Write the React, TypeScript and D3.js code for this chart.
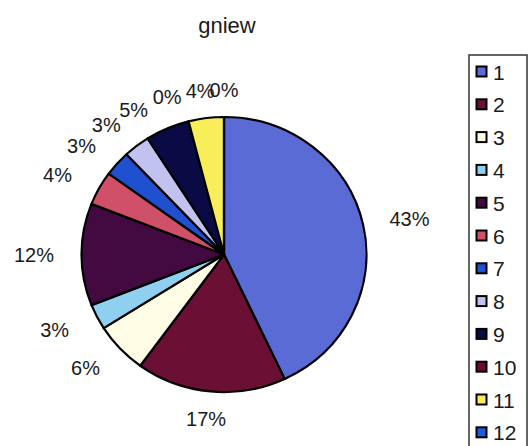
import React, { useMemo } from "react";
import * as d3 from "d3";

// Category names, their shares (percent) and slice colours
const categories = ["1", "2", "3", "4", "5", "6", "7", "8", "9", "10", "11", "12"];
const shares = [43, 17, 6, 3, 12, 4, 3, 3, 5, 0, 4, 0];
const sliceColors = [
  "#5b6bd6",
  "#6b0f35",
  "#fffde6",
  "#8fd0f0",
  "#420a40",
  "#d0506a",
  "#1f50d0",
  "#c2c2f0",
  "#0a0a45",
  "#700a30",
  "#f8ee5a",
  "#1a5ee0",
];
const title = "gniew";

const W = 528;
const H = 446;
const CX = 224;
const CY = 254.5;
const RY = 137.5;
const RX = 142.5;
const LABEL_RX = 190;
const LABEL_RY = 165;
const FONT = "'Liberation Sans', Arial, Helvetica, sans-serif";
const LABEL_SIZE = 20;

// Arial-like advance widths, used to size the label boxes
function textWidth(s: string, size: number): number {
  let w = 0;
  for (const ch of s) w += (ch === "%" ? 0.889 : 0.556) * size;
  return w;
}

type Label = { text: string; angle: number; x: number; y: number; w: number; h: number };

function place(l: Label) {
  l.x = CX + Math.sin(l.angle) * LABEL_RX;
  l.y = CY - Math.cos(l.angle) * LABEL_RY;
}

function overlaps(a: Label, b: Label, pad: number) {
  return (
    Math.abs(a.x - b.x) < (a.w + b.w) / 2 + pad &&
    Math.abs(a.y - b.y) < (a.h + b.h) / 2
  );
}

export default function App() {
  const total = d3.sum(shares);
  const arcs = useMemo(
    () => d3.pie<number>().sort(null).value((d) => d)(shares),
    []
  );
  const arcGen = d3.arc<d3.PieArcDatum<number>>().innerRadius(0).outerRadius(RY);

  const labels: Label[] = arcs.map((a) => {
    const text = `${Math.round((a.value / total) * 100)}%`;
    const l: Label = {
      text,
      angle: (a.startAngle + a.endAngle) / 2,
      x: 0,
      y: 0,
      w: textWidth(text, LABEL_SIZE),
      h: 15,
    };
    place(l);
    return l;
  });

  // sweep counterclockwise, nudging each label off its clockwise neighbour
  const step = (0.5 * Math.PI) / 180;
  for (let i = labels.length - 3; i >= 0; i--) {
    let guard = 0;
    while (overlaps(labels[i], labels[i + 1], 4) && guard < 200) {
      labels[i].angle -= step;
      place(labels[i]);
      guard++;
    }
  }

  const legendTop = 72;
  const legendStep = 32.8;

  return (
    <svg
      width={W}
      height={H}
      style={{ position: "absolute", left: 0, top: 0, background: "#fff" }}
      fontFamily={FONT}
    >
      <rect x={0} y={0} width={W} height={H} fill="#fff" />
      <text x={227} y={33} textAnchor="middle" fontSize={22} fill="#1a1a1a">
        {title}
      </text>

      <g transform={`translate(${CX},${CY}) scale(${RX / RY},1)`}>
        {arcs.map((a, i) => (
          <path
            key={i}
            d={arcGen(a) || ""}
            fill={sliceColors[i]}
            stroke="#000"
            strokeWidth={2.2}
            strokeLinejoin="round"
            vectorEffect="non-scaling-stroke"
          />
        ))}
      </g>

      {labels.map((l, i) => (
        <text
          key={i}
          x={l.x}
          y={l.y}
          dy="0.36em"
          textAnchor="middle"
          fontSize={LABEL_SIZE}
          fill="#1a1a1a"
        >
          {l.text}
        </text>
      ))}

      <rect
        x={469}
        y={55}
        width={58}
        height={420}
        fill="#fff"
        stroke="#333"
        strokeWidth={1.5}
      />
      {categories.map((c, i) => {
        const cy = legendTop + i * legendStep;
        return (
          <g key={c}>
            <rect
              x={476.5}
              y={cy - 5.5}
              width={10}
              height={10}
              fill={sliceColors[i]}
              stroke="#000"
              strokeWidth={2}
            />
            <text x={493} y={cy + 7.5} fontSize={21} fill="#1a1a1a">
              {c}
            </text>
          </g>
        );
      })}
    </svg>
  );
}
